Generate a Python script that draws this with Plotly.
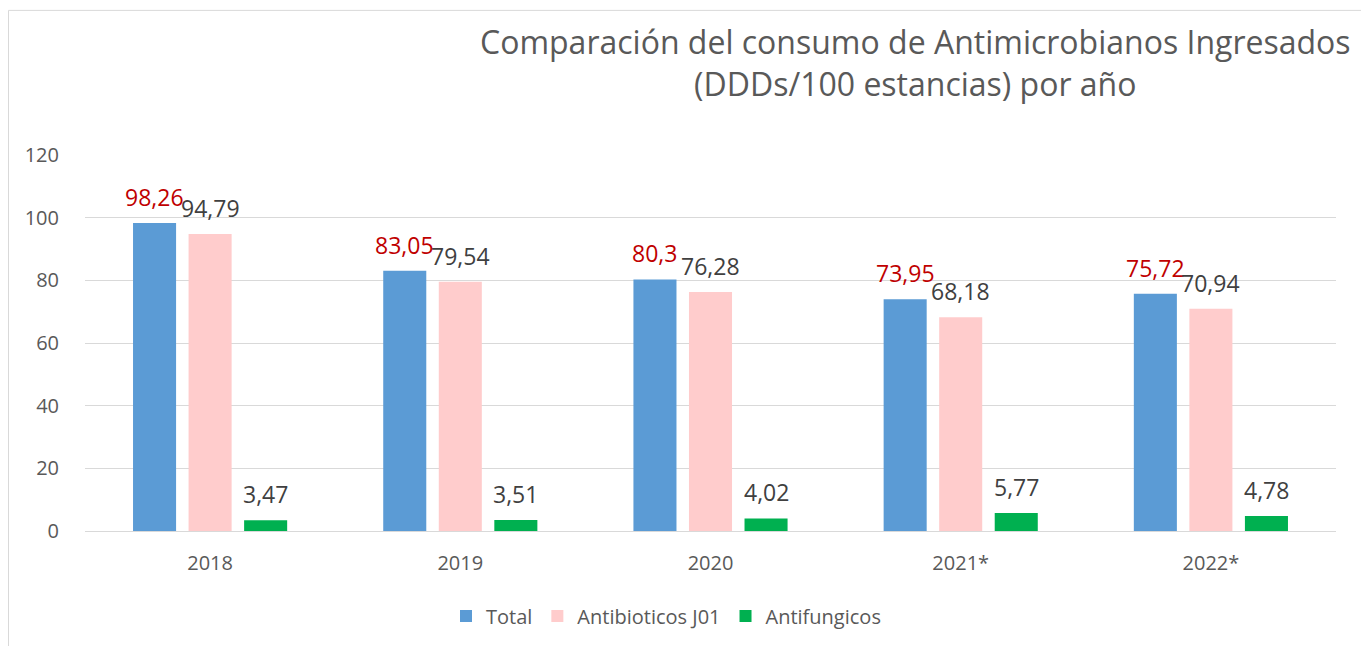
import plotly.graph_objects as go

years = ["2018", "2019", "2020", "2021*", "2022*"]
total = [98.26, 83.05, 80.3, 73.95, 75.72]
antibioticos = [94.79, 79.54, 76.28, 68.18, 70.94]
antifungicos = [3.47, 3.51, 4.02, 5.77, 4.78]
y_ticks = [0, 20, 40, 60, 80, 100, 120]

series = [
    ("Total", total, "#5B9BD5", "#C00000"),
    ("Antibioticos J01", antibioticos, "#FFCCCC", "#404040"),
    ("Antifungicos", antifungicos, "#00B050", "#404040"),
]

def fmt(x):
    return str(x).replace(".", ",")

FONT = "Open Sans"
OFF = 8  # page body margin
W, H = 1369 - OFF, 646 - OFF
# target-pixel geometry of the plot area (reference coordinates)
PX_L, PX_R, PX_T, PX_B = 85, 1336, 155, 532
L = PX_L - OFF
T = PX_T - OFF
R = W - (PX_R - OFF)
B = H - (PX_B - OFF)
pw, ph = PX_R - PX_L, PX_B - PX_T

def px2x(p):
    return (p - PX_L) / pw

def py2y(p):
    return (PX_B - p) / ph

BARGAP = 0.334
GROUPGAP = 0.225
cat_w = pw / len(years)
slot = cat_w * (1 - BARGAP) / 3

fig = go.Figure()
annotations = []
for i, (name, vals, col, tcol) in enumerate(series):
    fig.add_bar(x=years, y=vals, name=name, marker_color=col,
                marker_line_width=0)
    for j, v in enumerate(vals):
        annotations.append(dict(
            x=j, y=v, xref="x", yref="y", text=fmt(v), showarrow=False,
            xanchor="center", yanchor="bottom", xshift=(i - 1) * slot, yshift=8,
            font=dict(size=23, color=tcol, family=FONT)))

annotations.append(dict(
    text="Comparación del consumo de Antimicrobianos Ingresados<br>(DDDs/100 estancias) por año",
    xref="paper", yref="paper", x=px2x(915), y=py2y(62), xanchor="center", yanchor="middle",
    showarrow=False, align="center",
    font=dict(size=32, color="#595959", family=FONT)))

fig.update_layout(
    width=W, height=H,
    margin=dict(l=L, r=R, t=T, b=B),
    paper_bgcolor="white", plot_bgcolor="white",
    barmode="group", bargap=BARGAP, bargroupgap=GROUPGAP,
    font=dict(family=FONT, color="#595959"),
    showlegend=True,
    legend=dict(orientation="h", x=px2x(666), xanchor="center", y=py2y(616), yanchor="middle",
                font=dict(size=20, color="#595959", family=FONT), itemwidth=30,
                traceorder="normal"),
    annotations=annotations,
    shapes=[dict(type="rect", xref="paper", yref="paper",
                 x0=px2x(OFF + 0.5), x1=px2x(1363), y0=py2y(700), y1=py2y(10),
                 line=dict(color="#D9D9D9", width=1), fillcolor="rgba(0,0,0,0)", layer="below")],
)
fig.update_yaxes(range=[0, 120], tickvals=y_ticks, showgrid=True, gridcolor="#D9D9D9",
                 gridwidth=1, zeroline=False, showline=False, ticks="",
                 tickfont=dict(size=20, color="#595959", family=FONT), ticklabelstandoff=25)
fig.update_xaxes(type="category", range=[-0.5, len(years) - 0.5], showline=True,
                 linecolor="#D9D9D9", ticks="",
                 tickfont=dict(size=20, color="#595959", family=FONT), ticklabelstandoff=14)

fig.write_html("out.html")
